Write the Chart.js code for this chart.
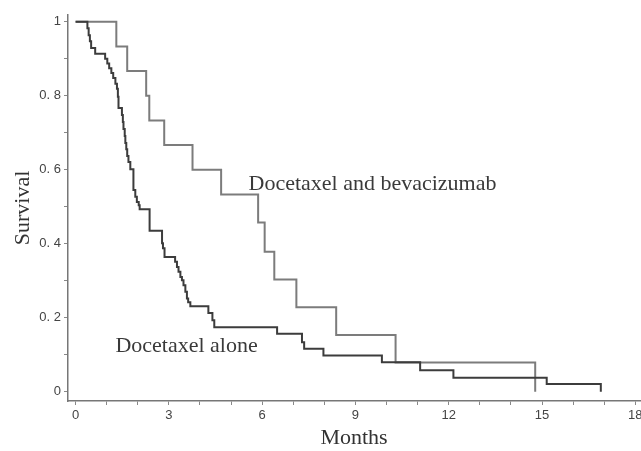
<!DOCTYPE html>
<html>
<head>
<meta charset="utf-8">
<script src="https://cdn.jsdelivr.net/npm/chart.js@4"></script>
<style>
  body { margin: 0; background: #fff; }
  canvas { display: block; }
</style>
</head>
<body>
<canvas id="km" width="641" height="451"></canvas>
<script>
// Kaplan-Meier curves (months, survival after each drop)
const aloneTimes = [0, 0.38, 0.42, 0.46, 0.50, 0.63, 0.95, 1.02, 1.08, 1.15, 1.21, 1.28, 1.33, 1.36, 1.38,
  1.49, 1.52, 1.54, 1.58, 1.60, 1.63, 1.66, 1.70, 1.76, 1.86, 1.92, 1.97, 2.03, 2.06, 2.38, 2.78, 2.81,
  2.86, 3.20, 3.26, 3.31, 3.37, 3.42, 3.47, 3.53, 3.58, 3.62, 3.69, 4.27, 4.40, 4.46, 6.48, 7.28, 7.35,
  7.97, 9.85, 11.08, 12.15, 15.15, 16.89];
const aloneSurvival = [1, 0.982, 0.963, 0.947, 0.929, 0.913, 0.900, 0.887, 0.874, 0.861, 0.848, 0.832, 0.819, 0.797, 0.767,
  0.748, 0.729, 0.710, 0.691, 0.672, 0.655, 0.637, 0.621, 0.601, 0.545, 0.527, 0.513, 0.504, 0.493, 0.435, 0.401, 0.388,
  0.364, 0.351, 0.337, 0.324, 0.310, 0.301, 0.288, 0.270, 0.252, 0.242, 0.231, 0.213, 0.193, 0.174, 0.157, 0.134, 0.116,
  0.098, 0.080, 0.058, 0.038, 0.021, 0];

const bevTimes = [0, 1.31, 1.66, 2.27, 2.37, 2.85, 3.76, 4.68, 5.87, 6.08, 6.39, 7.10, 8.38, 10.29, 14.78];
const bevSurvival = [1, 0.933, 0.867, 0.800, 0.733, 0.667, 0.600, 0.533, 0.457, 0.378, 0.303, 0.228, 0.153, 0.079, 0];

const seriesNames = ["Docetaxel alone", "Docetaxel and bevacizumab"];

const xTicks = [0, 1, 2, 3, 4, 5, 6, 7, 8, 9, 10, 11, 12, 13, 14, 15, 16, 17, 18];
const xLabels = ["0", "", "", "3", "", "", "6", "", "", "9", "", "", "12", "", "", "15", "", "", "18"];
const yTicks = [0, 0.1, 0.2, 0.3, 0.4, 0.5, 0.6, 0.7, 0.8, 0.9, 1];
const yLabels = ["0", "", "0. 2", "", "0. 4", "", "0. 6", "", "0. 8", "", "1"];

function toPoints(times, values) {
  return times.map((t, i) => ({ x: t, y: values[i] }));
}

// curve labels drawn next to the lines
const curveLabels = {
  id: "curveLabels",
  afterDatasetsDraw(chart) {
    const { ctx, scales: { x, y } } = chart;
    ctx.save();
    ctx.font = "22px 'Liberation Serif'";
    ctx.fillStyle = "#3a3a3a";
    ctx.textBaseline = "alphabetic";
    ctx.textAlign = "left";
    ctx.fillText(seriesNames[1], x.getPixelForValue(5.56), y.getPixelForValue(0.545));
    ctx.fillText(seriesNames[0], x.getPixelForValue(1.28), y.getPixelForValue(0.107));
    ctx.restore();
  }
};

const tickFont = { family: "'Liberation Sans'", size: 13 };

new Chart(document.getElementById("km"), {
  type: "line",
  data: {
    datasets: [
      {
        label: seriesNames[0],
        data: toPoints(aloneTimes, aloneSurvival),
        borderColor: "#3c3c3c",
        borderWidth: 2,
        stepped: "before",
        pointRadius: 0,
        fill: false
      },
      {
        label: seriesNames[1],
        data: toPoints(bevTimes, bevSurvival),
        borderColor: "#7c7c7c",
        borderWidth: 2,
        stepped: "before",
        pointRadius: 0,
        fill: false
      }
    ]
  },
  options: {
    responsive: false,
    animation: false,
    layout: { padding: { left: 0, right: 1, top: 15, bottom: 0 } },
    plugins: { legend: { display: false }, tooltip: { enabled: false } },
    scales: {
      x: {
        type: "linear",
        min: -0.244,
        max: 18.15,
        afterBuildTicks: (s) => { s.ticks = xTicks.map(v => ({ value: v })); },
        afterFit: (s) => { s.height = 50; s.paddingLeft = 0; s.paddingRight = 0; },
        ticks: {
          autoSkip: false,
          maxRotation: 0,
          padding: 3,
          color: "#444",
          font: tickFont,
          callback: (v, i) => xLabels[i]
        },
        grid: { drawOnChartArea: false, tickLength: 4, color: "#888", lineWidth: 1 },
        border: { color: "#777", width: 1.5 },
        title: {
          display: true,
          text: "Months",
          color: "#333",
          font: { family: "'Liberation Serif'", size: 22 },
          padding: { top: 0, bottom: 0 }
        }
      },
      y: {
        min: -0.025,
        max: 1.018,
        afterBuildTicks: (s) => { s.ticks = yTicks.map(v => ({ value: v })); },
        afterFit: (s) => { s.width = 68; s.paddingTop = 0; s.paddingBottom = 0; },
        ticks: {
          autoSkip: false,
          padding: 3,
          color: "#444",
          font: tickFont,
          callback: (v, i) => yLabels[i]
        },
        grid: { drawOnChartArea: false, tickLength: 4, color: "#888", lineWidth: 1 },
        border: { color: "#777", width: 1.5 },
        title: {
          display: true,
          text: "Survival",
          color: "#333",
          font: { family: "'Liberation Serif'", size: 22 },
          padding: { top: 10, bottom: 0 }
        }
      }
    }
  },
  plugins: [curveLabels]
});
</script>
</body>
</html>
